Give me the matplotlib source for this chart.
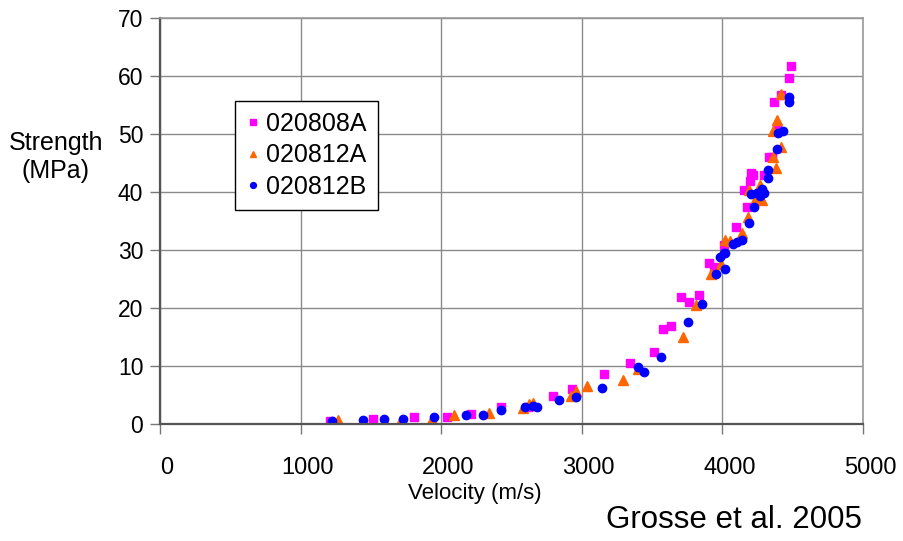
import matplotlib
matplotlib.use('Agg')
import matplotlib.pyplot as plt
from matplotlib.transforms import ScaledTranslation

plt.rcParams['font.family'] = ['Liberation Sans', 'DejaVu Sans']

# ---- data (velocity m/s, strength MPa) ----
a_v = [1209, 1512, 1807, 2039, 2210, 2423, 2620, 2798, 2930, 3160, 3345, 3511,
       3575, 3634, 3703, 3762, 3834, 3905, 3940, 4011, 4094, 4156, 4172, 4196,
       4201, 4220, 4296, 4331, 4355, 4367, 4386, 4420, 4471, 4488]
a_s = [0.5, 0.8, 1.15, 1.26, 1.7, 2.9, 2.9, 4.9, 6.0, 8.6, 10.6, 12.5,
       16.4, 16.9, 21.9, 21.0, 22.3, 27.8, 27.1, 30.9, 34.0, 40.3, 37.4, 41.9,
       43.2, 42.9, 42.9, 46.1, 46.0, 55.6, 51.2, 56.8, 59.6, 61.8]

b_v = [1268, 1441, 1600, 1710, 1932, 2091, 2342, 2580, 2622, 2651, 2921, 2959,
       3035, 3291, 3400, 3717, 3810, 3917, 3988, 4016, 4054, 4141, 4184, 4189,
       4239, 4267, 4279, 4362, 4362, 4381, 4390, 4414, 4414]
b_s = [0.7, 0.2, 0.3, 0.4, 0.8, 1.5, 1.84, 2.7, 3.45, 3.7, 4.8, 5.75,
       6.55, 7.6, 9.5, 15.0, 20.5, 25.9, 27.6, 31.7, 31.6, 33.0, 35.7, 40.3,
       38.9, 41.2, 38.6, 46.1, 50.6, 44.1, 52.5, 47.8, 56.9]

c_v = [1221, 1441, 1593, 1731, 1949, 2176, 2295, 2423, 2594, 2651, 2684, 2840,
       2959, 3141, 3397, 3445, 3563, 3758, 3855, 3957, 3983, 4011, 4018, 4018,
       4073, 4106, 4137, 4189, 4201, 4222, 4244, 4267, 4279, 4296, 4324, 4324,
       4391, 4398, 4428, 4471, 4476]
c_s = [0.57, 0.7, 0.9, 0.8, 1.15, 1.5, 1.55, 2.4, 3.0, 3.1, 3.0, 4.1,
       4.7, 6.15, 9.8, 9.0, 11.5, 17.6, 20.7, 25.8, 28.8, 29.5, 29.4, 26.8,
       31.0, 31.3, 31.8, 34.7, 39.7, 37.4, 39.9, 39.3, 40.5, 39.9, 43.8, 42.4,
       47.5, 50.1, 50.6, 56.4, 55.5]

labels = ['020808A', '020812A', '020812B']
x_ticks = [0, 1000, 2000, 3000, 4000, 5000]
y_ticks = [0, 10, 20, 30, 40, 50, 60, 70]

fig = plt.figure(figsize=(9.04, 5.41), dpi=100)
ax = fig.add_axes([160/904, 117/541, 703/904, 406/541])

h1, = ax.plot(a_v, a_s, linestyle='none', marker='s', ms=6, color='#FF00FF', mec='#FF00FF', label=labels[0])
h2, = ax.plot(b_v, b_s, linestyle='none', marker='^', ms=7, color='#FF6600', mec='#FF6600', label=labels[1])
h3, = ax.plot(c_v, c_s, linestyle='none', marker='o', ms=6, color='#0000FF', mec='#0000FF', label=labels[2])

ax.set_xlim(0, 5000)
ax.set_ylim(0, 70)
ax.set_xticks(x_ticks)
ax.set_yticks(y_ticks)
ax.grid(True, color='#8a8a8a', lw=1.0)
ax.set_axisbelow(True)

for side in ['left', 'bottom']:
    ax.spines[side].set_color('#555555')
    ax.spines[side].set_linewidth(1.6)
for side in ['right', 'top']:
    ax.spines[side].set_color('#999999')
    ax.spines[side].set_linewidth(1.2)

ax.tick_params(axis='x', length=7, width=1, color='#777777', pad=17, labelsize=17)
ax.tick_params(axis='y', length=7, width=1, color='#777777', pad=5, labelsize=16.5)
off = ScaledTranslation(7/100, 0, fig.dpi_scale_trans)
for lab in ax.get_xticklabels():
    lab.set_transform(lab.get_transform() + off)

fig.text(475/904, 1 - 493/541, 'Velocity (m/s)', ha='center', va='center', fontsize=16)
fig.text(56/904, 1 - 157/541, 'Strength\n(MPa)', ha='center', va='center', fontsize=18, linespacing=1.2)
fig.text(734/904, 1 - 520/541, 'Grosse et al. 2005', ha='center', va='center', fontsize=22.5)

leg = ax.legend(handles=[h1, h2, h3], loc='upper left',
                bbox_to_anchor=((234.7-160)/703, (424-100.7)/406),
                borderaxespad=0, fontsize=18, frameon=True, fancybox=False,
                edgecolor='black', framealpha=1, markerscale=0.7,
                handlelength=0.6, handletextpad=0.2, labelspacing=0.3,
                borderpad=0.45)
leg.get_frame().set_linewidth(1.0)

fig.savefig('out.png', dpi=100)
